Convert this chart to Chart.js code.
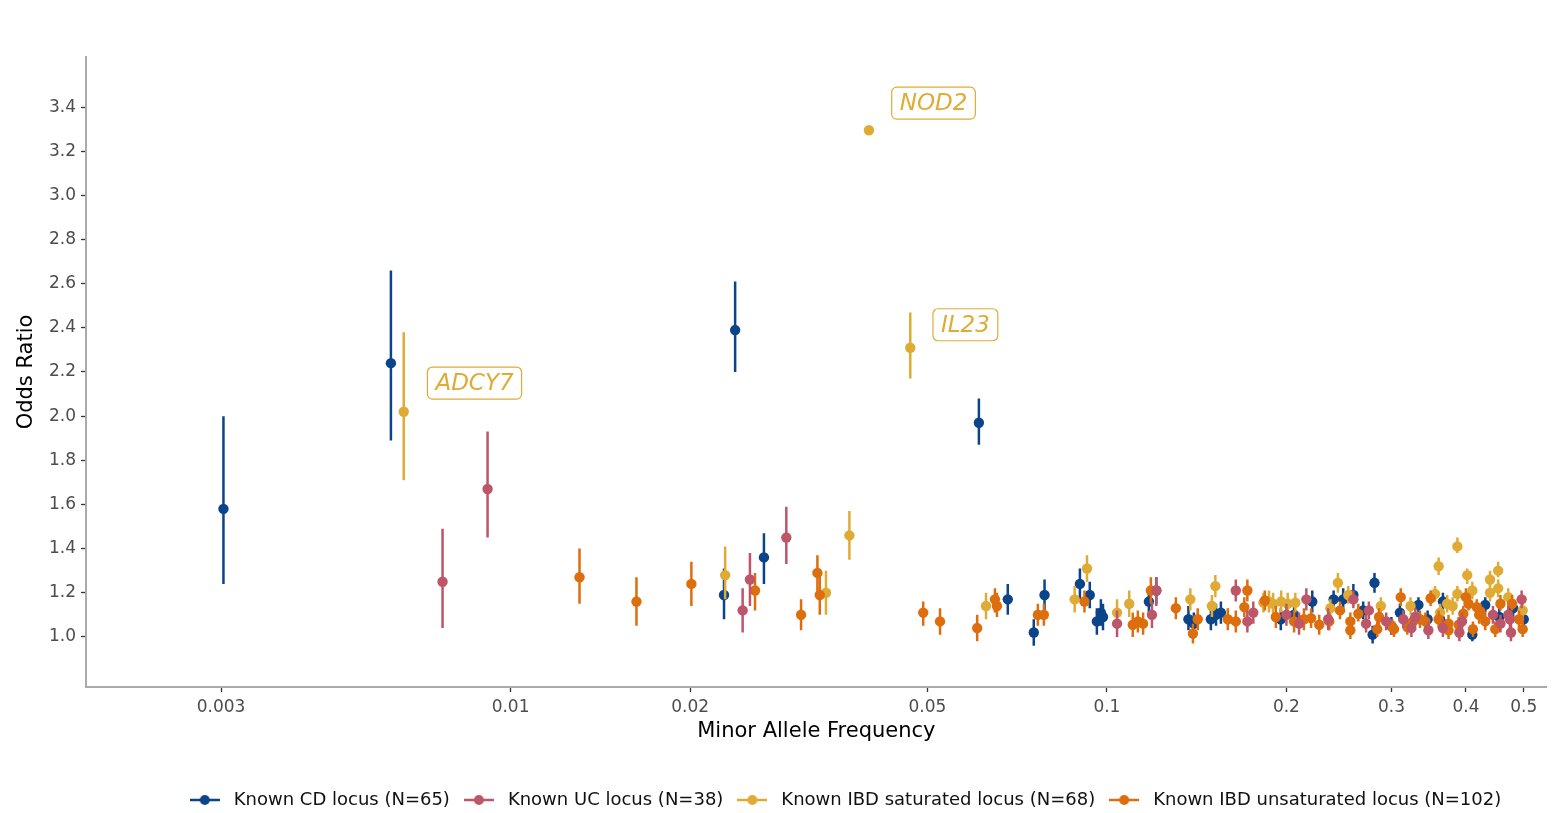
<!DOCTYPE html>
<html>
<head>
<meta charset="utf-8">
<title>Odds Ratio vs MAF</title>
<script src="https://cdn.jsdelivr.net/npm/chart.js@4.4.0/dist/chart.umd.min.js"></script>
<style>
	html, body { margin: 0; padding: 0; background: #fff; }
	#contenedor { width: 1552px; height: 813px; }
</style>
</head>
<body>
<div id="contenedor"><canvas id="grafico" width="1552" height="813"></canvas></div>
<script>
// Cada fila: [MAF, odds ratio, IC inferior, IC superior]
const cdLoci = [
	[0.0033, 1.58, 1.24, 2.00], [0.0063, 2.24, 1.89, 2.66], [0.0228, 1.19, 1.08, 1.31],
	[0.0238, 2.39, 2.20, 2.61], [0.0266, 1.36, 1.24, 1.47], [0.0610, 1.97, 1.87, 2.08],
	[0.0682, 1.17, 1.10, 1.24], [0.0754, 1.02, 0.96, 1.08], [0.0786, 1.19, 1.12, 1.26],
	[0.0901, 1.24, 1.17, 1.31], [0.0936, 1.19, 1.13, 1.25], [0.0962, 1.07, 1.01, 1.13],
	[0.0977, 1.11, 1.05, 1.17], [0.0985, 1.09, 1.03, 1.15], [0.1176, 1.16, 1.10, 1.22],
	[0.1210, 1.21, 1.15, 1.27], [0.1370, 1.08, 1.03, 1.14], [0.1399, 1.06, 1.01, 1.11],
	[0.1494, 1.08, 1.03, 1.13], [0.1524, 1.10, 1.05, 1.15], [0.1553, 1.11, 1.06, 1.16],
	[0.1957, 1.08, 1.03, 1.13], [0.2060, 1.10, 1.05, 1.15], [0.2210, 1.16, 1.11, 1.21],
	[0.2400, 1.17, 1.12, 1.21], [0.2490, 1.17, 1.13, 1.22], [0.2590, 1.19, 1.15, 1.24],
	[0.2690, 1.12, 1.08, 1.16], [0.2790, 1.01, 0.97, 1.05], [0.2810, 1.245, 1.20, 1.29],
	[0.3000, 1.05, 1.01, 1.09], [0.3100, 1.11, 1.07, 1.15], [0.3330, 1.145, 1.11, 1.18],
	[0.3450, 1.08, 1.04, 1.12], [0.3620, 1.08, 1.04, 1.12], [0.3660, 1.16, 1.12, 1.20],
	[0.4100, 1.01, 0.98, 1.05], [0.4310, 1.145, 1.11, 1.18], [0.4550, 1.09, 1.05, 1.13],
	[0.4800, 1.13, 1.09, 1.17], [0.5000, 1.08, 1.04, 1.12]
];

const ucLoci = [
	[0.00769, 1.25, 1.04, 1.49], [0.00915, 1.67, 1.45, 1.93], [0.0245, 1.12, 1.02, 1.22],
	[0.0252, 1.26, 1.14, 1.38], [0.0290, 1.45, 1.33, 1.59], [0.1040, 1.06, 1.00, 1.12],
	[0.1190, 1.10, 1.04, 1.16], [0.1210, 1.21, 1.14, 1.27], [0.1645, 1.21, 1.16, 1.26],
	[0.1720, 1.07, 1.02, 1.12], [0.1760, 1.11, 1.06, 1.16], [0.2000, 1.10, 1.05, 1.15],
	[0.2100, 1.06, 1.01, 1.11], [0.2160, 1.17, 1.12, 1.22], [0.2350, 1.08, 1.03, 1.13],
	[0.2590, 1.17, 1.13, 1.21], [0.2720, 1.06, 1.02, 1.10], [0.2750, 1.12, 1.08, 1.16],
	[0.2940, 1.07, 1.03, 1.11], [0.3140, 1.08, 1.04, 1.12], [0.3240, 1.04, 1.00, 1.08],
	[0.3290, 1.09, 1.05, 1.13], [0.3460, 1.03, 0.99, 1.07], [0.3660, 1.04, 1.00, 1.08],
	[0.3900, 1.02, 0.98, 1.06], [0.3940, 1.07, 1.03, 1.11], [0.4440, 1.10, 1.06, 1.14],
	[0.4570, 1.06, 1.02, 1.10], [0.4710, 1.10, 1.06, 1.14], [0.4740, 1.08, 1.04, 1.12],
	[0.4760, 1.02, 0.98, 1.06], [0.4960, 1.17, 1.13, 1.21]
];

const ibdSatLoci = [
	[0.00662, 2.02, 1.71, 2.38], [0.0229, 1.28, 1.17, 1.41], [0.0338, 1.20, 1.10, 1.30],
	[0.0370, 1.46, 1.35, 1.57], [0.0399, 3.295, 3.295, 3.295], [0.0468, 2.31, 2.17, 2.47],
	[0.0627, 1.14, 1.08, 1.20], [0.0883, 1.17, 1.11, 1.23], [0.0926, 1.31, 1.25, 1.37],
	[0.1040, 1.11, 1.05, 1.17], [0.1090, 1.15, 1.09, 1.21], [0.1380, 1.17, 1.12, 1.22],
	[0.1500, 1.14, 1.09, 1.19], [0.1520, 1.23, 1.18, 1.28], [0.1830, 1.155, 1.11, 1.20],
	[0.1870, 1.16, 1.11, 1.21], [0.1900, 1.15, 1.10, 1.20], [0.1960, 1.16, 1.11, 1.21],
	[0.2010, 1.15, 1.10, 1.20], [0.2070, 1.155, 1.11, 1.20], [0.2370, 1.13, 1.08, 1.17],
	[0.2440, 1.245, 1.20, 1.29], [0.2540, 1.19, 1.15, 1.23], [0.2880, 1.14, 1.10, 1.18],
	[0.3230, 1.14, 1.10, 1.18], [0.3550, 1.195, 1.16, 1.23], [0.3600, 1.32, 1.28, 1.36],
	[0.3620, 1.11, 1.07, 1.15], [0.3720, 1.15, 1.11, 1.19], [0.3800, 1.14, 1.10, 1.18],
	[0.3870, 1.195, 1.16, 1.23], [0.3870, 1.41, 1.38, 1.45], [0.4020, 1.28, 1.24, 1.31],
	[0.4100, 1.21, 1.17, 1.25], [0.4390, 1.20, 1.16, 1.24], [0.4390, 1.26, 1.23, 1.30],
	[0.4530, 1.22, 1.18, 1.26], [0.4530, 1.30, 1.27, 1.34], [0.4710, 1.18, 1.14, 1.22],
	[0.4980, 1.12, 1.08, 1.16]
];

const ibdUnsatLoci = [
	[0.01305, 1.27, 1.15, 1.40], [0.01626, 1.16, 1.05, 1.27], [0.0201, 1.24, 1.14, 1.34],
	[0.0257, 1.21, 1.12, 1.29], [0.0307, 1.10, 1.03, 1.17], [0.0327, 1.29, 1.20, 1.37],
	[0.0330, 1.19, 1.10, 1.28], [0.0492, 1.11, 1.05, 1.16], [0.0525, 1.07, 1.01, 1.13],
	[0.0606, 1.04, 0.98, 1.10], [0.0649, 1.17, 1.11, 1.22], [0.0654, 1.14, 1.09, 1.20],
	[0.0766, 1.10, 1.05, 1.15], [0.0784, 1.10, 1.05, 1.15], [0.0917, 1.16, 1.11, 1.21],
	[0.1105, 1.055, 1.00, 1.11], [0.1127, 1.07, 1.02, 1.12], [0.1150, 1.06, 1.01, 1.11],
	[0.1185, 1.21, 1.15, 1.27], [0.1305, 1.13, 1.08, 1.18], [0.1394, 1.015, 0.97, 1.06],
	[0.1420, 1.08, 1.03, 1.13], [0.1595, 1.08, 1.03, 1.13], [0.1645, 1.07, 1.02, 1.12],
	[0.1700, 1.135, 1.09, 1.18], [0.1720, 1.21, 1.16, 1.26], [0.1840, 1.165, 1.12, 1.21],
	[0.1920, 1.09, 1.04, 1.14], [0.2060, 1.07, 1.02, 1.12], [0.2140, 1.08, 1.03, 1.13],
	[0.2200, 1.085, 1.04, 1.13], [0.2270, 1.055, 1.01, 1.10], [0.2360, 1.07, 1.03, 1.11],
	[0.2460, 1.12, 1.08, 1.16], [0.2560, 1.07, 1.03, 1.11], [0.2560, 1.03, 0.99, 1.07],
	[0.2640, 1.105, 1.07, 1.15], [0.2840, 1.035, 1.00, 1.07], [0.2860, 1.09, 1.05, 1.13],
	[0.3010, 1.045, 1.01, 1.08], [0.3030, 1.035, 1.00, 1.07], [0.3110, 1.18, 1.14, 1.22],
	[0.3190, 1.045, 1.01, 1.08], [0.3260, 1.07, 1.03, 1.11], [0.3350, 1.08, 1.04, 1.12],
	[0.3420, 1.07, 1.03, 1.11], [0.3490, 1.175, 1.14, 1.21], [0.3600, 1.08, 1.04, 1.12],
	[0.3740, 1.06, 1.02, 1.10], [0.3740, 1.03, 0.99, 1.07], [0.3890, 1.055, 1.02, 1.09],
	[0.3960, 1.105, 1.07, 1.14], [0.4000, 1.18, 1.15, 1.22], [0.4040, 1.15, 1.12, 1.19],
	[0.4110, 1.035, 1.00, 1.07], [0.4170, 1.135, 1.10, 1.17], [0.4210, 1.10, 1.06, 1.14],
	[0.4230, 1.115, 1.08, 1.15], [0.4310, 1.07, 1.03, 1.11], [0.4480, 1.035, 1.00, 1.07],
	[0.4570, 1.15, 1.12, 1.19], [0.4780, 1.15, 1.12, 1.19], [0.4910, 1.08, 1.04, 1.12],
	[0.4980, 1.035, 1.00, 1.07]
];

// Ejes
const xTickValues = [0.00327, 0.01, 0.02, 0.05, 0.1, 0.2, 0.3, 0.4, 0.5];
const xTickLabels = ['0.003', '0.01', '0.02', '0.05', '0.1', '0.2', '0.3', '0.4', '0.5'];
const yTickValues = [1.0, 1.2, 1.4, 1.6, 1.8, 2.0, 2.2, 2.4, 2.6, 2.8, 3.0, 3.2, 3.4];

// Etiquetas de genes (posición del recuadro en unidades de datos)
const geneNames = ['ADCY7', 'NOD2', 'IL23'];
const geneMaf = [0.0087, 0.0512, 0.0579];
const geneOr = [2.15, 3.418, 2.414];

const colorCD = '#0B4488';
const colorUC = '#BD5668';
const colorSat = '#E0AB35';
const colorUnsat = '#DD6E0D';

const fuente = '"DejaVu Sans", "Liberation Sans", sans-serif';

function aPuntos(filas) {
	return filas.map(r => ({ x: r[0], y: r[1], lo: r[2], hi: r[3] }));
}

// Símbolo de leyenda: línea con punto
function simboloLeyenda(color) {
	const c = document.createElement('canvas');
	c.width = 30; c.height = 12;
	const g = c.getContext('2d');
	g.strokeStyle = color; g.lineWidth = 2.5;
	g.beginPath(); g.moveTo(0, 6); g.lineTo(30, 6); g.stroke();
	g.fillStyle = color;
	g.beginPath(); g.arc(15, 6, 5, 0, Math.PI * 2); g.fill();
	return c;
}

// Barras de error verticales, dibujadas antes de los puntos de cada serie
const barrasError = {
	id: 'barrasError',
	beforeDatasetDraw(chart, args) {
		const ds = chart.data.datasets[args.index];
		const xs = chart.scales.x, ys = chart.scales.y;
		const a = chart.chartArea;
		const ctx = chart.ctx;
		ctx.save();
		ctx.beginPath();
		ctx.rect(a.left, a.top, a.right - a.left, a.bottom - a.top);
		ctx.clip();
		ctx.strokeStyle = ds.backgroundColor;
		ctx.lineWidth = 2.5;
		ds.data.forEach(p => {
			if (p.hi <= p.lo) return;
			const px = xs.getPixelForValue(p.x);
			ctx.beginPath();
			ctx.moveTo(px, ys.getPixelForValue(p.lo));
			ctx.lineTo(px, ys.getPixelForValue(p.hi));
			ctx.stroke();
		});
		ctx.restore();
	}
};

// Recuadros con los nombres de genes
const etiquetasGenes = {
	id: 'etiquetasGenes',
	afterDatasetsDraw(chart) {
		const ctx = chart.ctx, xs = chart.scales.x, ys = chart.scales.y;
		ctx.save();
		ctx.font = 'italic 23px ' + fuente;
		ctx.textAlign = 'center';
		ctx.textBaseline = 'middle';
		geneNames.forEach((t, i) => {
			const cx = xs.getPixelForValue(geneMaf[i]);
			const cy = ys.getPixelForValue(geneOr[i]);
			const w = ctx.measureText(t).width + 16, h = 32;
			ctx.beginPath();
			ctx.roundRect(cx - w / 2, cy - h / 2, w, h, 5);
			ctx.fillStyle = '#fff';
			ctx.fill();
			ctx.strokeStyle = colorSat;
			ctx.lineWidth = 1.2;
			ctx.stroke();
			ctx.fillStyle = colorSat;
			ctx.fillText(t, cx, cy + 1);
		});
		ctx.restore();
	}
};

// Desplaza la leyenda para centrarla como en el original
const moverLeyenda = {
	id: 'moverLeyenda',
	afterLayout(chart) {
		const l = chart.legend;
		l.left += 67; l.right += 67;
		l.top += 6; l.bottom += 6;
	}
};

function serie(label, filas, color, orden) {
	return {
		label: label,
		data: aPuntos(filas),
		backgroundColor: color,
		borderColor: color,
		borderWidth: 0,
		pointRadius: 5.2,
		pointHoverRadius: 5.2,
		order: orden
	};
}

new Chart(document.getElementById('grafico'), {
	type: 'scatter',
	data: {
		datasets: [
			serie('Known CD locus (N=65)', cdLoci, colorCD, 3),
			serie('Known UC locus (N=38)', ucLoci, colorUC, 0),
			serie('Known IBD saturated locus (N=68)', ibdSatLoci, colorSat, 2),
			serie('Known IBD unsaturated locus (N=102)', ibdUnsatLoci, colorUnsat, 1)
		]
	},
	options: {
		responsive: false,
		animation: false,
		events: [],
		layout: { padding: { top: 57, right: 0, left: 0, bottom: 0 } },
		plugins: {
			tooltip: { enabled: false },
			legend: {
				position: 'bottom',
				labels: {
					usePointStyle: true,
					pointStyleWidth: 40,
					padding: 9,
					color: '#111',
					font: { family: fuente, size: 18 },
					sort: (a, b) => a.datasetIndex - b.datasetIndex,
					generateLabels(chart) {
						const items = Chart.defaults.plugins.legend.labels.generateLabels(chart);
						items.forEach(it => {
							const ds = chart.data.datasets[it.datasetIndex];
							it.pointStyle = simboloLeyenda(ds.backgroundColor);
						});
						return items;
					}
				}
			}
		},
		scales: {
			x: {
				type: 'logarithmic',
				min: 0.001941,
				max: 0.5466,
				afterBuildTicks: s => { s.ticks = xTickValues.map(v => ({ value: v })); },
				afterFit: s => { s.height = 89; },
				ticks: {
					autoSkip: false,
					maxRotation: 0,
					padding: 5,
					color: '#4d4d4d',
					font: { family: fuente, size: 17 },
					callback: (v, i) => xTickLabels[i]
				},
				grid: { drawOnChartArea: false, tickLength: 5, tickColor: '#333', tickWidth: 1.3 },
				border: { display: true, color: '#aaaaaa', width: 2 },
				title: {
					display: true,
					text: 'Minor Allele Frequency',
					color: '#000',
					font: { family: fuente, size: 21 },
					padding: { top: 0, bottom: 32 }
				}
			},
			y: {
				type: 'linear',
				min: 0.773,
				max: 3.627,
				afterBuildTicks: s => { s.ticks = yTickValues.map(v => ({ value: v })); },
				afterFit: s => { s.width = 86; },
				ticks: {
					padding: 5,
					color: '#4d4d4d',
					font: { family: fuente, size: 17 },
					callback: v => v.toFixed(1)
				},
				grid: { drawOnChartArea: false, tickLength: 5, tickColor: '#333', tickWidth: 1.3 },
				border: { display: true, color: '#aaaaaa', width: 2 },
				title: {
					display: true,
					text: 'Odds Ratio',
					color: '#000',
					font: { family: fuente, size: 21 },
					padding: { top: 14, bottom: 0 }
				}
			}
		}
	},
	plugins: [barrasError, etiquetasGenes, moverLeyenda]
});
</script>
</body>
</html>
